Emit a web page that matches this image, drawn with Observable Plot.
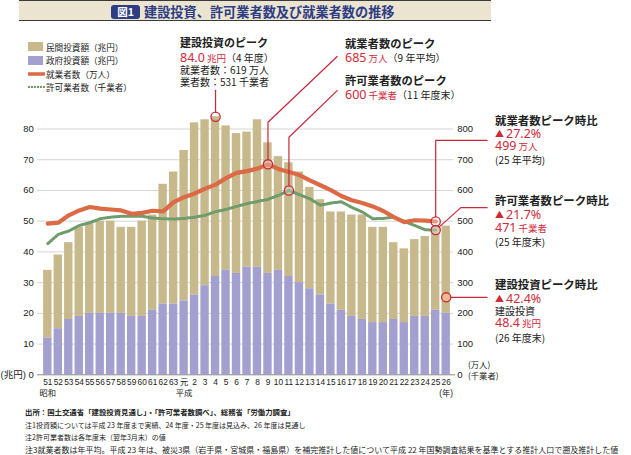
<!DOCTYPE html>
<html><head><meta charset="utf-8">
<script src="https://cdn.jsdelivr.net/npm/d3@7"></script>
<script src="https://cdn.jsdelivr.net/npm/@observablehq/plot@0.6"></script>
<style>
body{margin:0;background:#fff;}
#wrap{position:relative;width:631px;height:455px;overflow:hidden;font-family:"Noto Sans CJK JP",sans-serif;color:#222;}
#titlebar{position:absolute;left:19px;top:0px;width:472px;height:19px;background:#ebe4d0;border-top:1.5px solid #3a3a3a;border-bottom:1.5px solid #3a3a3a;}
#fig{position:absolute;left:111px;top:5px;width:29px;height:14px;border-radius:3px;background:#2e3d84;color:#fff;font:bold 10.5px/14px "Noto Sans CJK JP";text-align:center;}
#title{position:absolute;left:144px;top:2px;font:bold 13.2px/20px "Noto Sans CJK JP";color:#2e3d84;white-space:nowrap;}
#chart{position:absolute;left:0;top:30px;}
.t{position:absolute;white-space:nowrap;line-height:10px;height:10px;}
.t span{display:inline-block;height:10px;line-height:10px;vertical-align:top;}
.red{color:#cf2a3a;}
.num{font-family:"Noto Sans",sans-serif;font-size:12.5px;font-weight:400;}
#foot{position:absolute;left:25px;top:400px;width:620px;}
#foot div{position:absolute;left:0;white-space:nowrap;line-height:10px;}
</style></head><body><div id="wrap">
<div id="titlebar"></div>
<div id="fig">図1</div>
<div id="title">建設投資、許可業者数及び就業者数の推移</div>
<div id="chart"></div>
<div id="foot">
<div style="top:7px;font-size:7.4px;font-weight:bold;">出所：国土交通省「建設投資見通し」・「許可業者数調べ」、総務省「労働力調査」</div>
<div style="top:20px;font-size:7px;">注1投資額については平成 23 年度まで実績、24 年度・25 年度は見込み、26 年度は見通し</div>
<div style="top:32px;font-size:7px;">注2許可業者数は各年度末（翌年3月末）の値</div>
<div style="top:45px;font-size:8px;">注3就業者数は年平均。平成 23 年は、被災3県（岩手県・宮城県・福島県）を補完推計した値について平成 22 年国勢調査結果を基準とする推計人口で遡及推計した値</div>
</div>
</div>
<script>
// ---- data ----
const yearLabels = ["51","52","53","54","55","56","57","58","59","60","61","62","63","元","2","3","4","5","6","7","8","9","10","11","12","13","14","15","16","17","18","19","20","21","22","23","24","25","26"];
const eraLabels = {0:"昭和", 13:"平成", 38:"(年)"};
// 建設投資 total (兆円) = 民間 + 政府
const investTotal = [34,39,43,48,49.5,50,50,48,48,50,52,62,66,73,82,83,84,81,78.5,79,83,75.5,71,69,66,61,57,53,53,52,52,48,48,43,41,44,45,48,48.4];
// 政府投資 (兆円)
const investGov = [12,15,18,19,20,20,20,20,19,19,21,23,23,24,26,29,32,34,33,35,35,33,34,32,30,28,26,23,21,19,18,17,17,18,17,19,19,21,20];
// 就業者数 (万人), 昭和51〜平成25
const employed = [492,495,519,535,546,541,538,535,524,527,534,532,562,578,590,606,619,640,657,663,671,685,670,660,650,633,617,601,582,568,559,548,533,513,497,503,502,499];
// 許可業者数 (千業者), 昭和51〜平成25
const permits = [427,457,468,486,495,508,513,516,516,516,510,508,507,509,513,519,531,538,548,557,564,571,584,600,586,573,552,559,563,545,530,508,509,513,499,486,472,471];
const yTicks = [0,10,20,30,40,50,60,70,80];

const bars = yearLabels.map((lab,i)=>({i, lab, total: investTotal[i], gov: investGov[i]}));
const empData = employed.map((v,i)=>({i, v: v/10}));
const perData = permits.map((v,i)=>({i, v: v/10}));

// highlighted points (index, value in left-axis units)
const hl = [
  {i:16, v: investTotal[16], fill:"none"},
  {i:21, v: employed[21]/10, fill:"rgba(255,255,255,0.25)"},
  {i:23, v: permits[23]/10, fill:"rgba(255,255,255,0.25)"},
  {i:37, v: employed[37]/10, fill:"rgba(255,255,255,0.3)"},
  {i:37, v: permits[37]/10, fill:"rgba(255,255,255,0.3)"},
  {i:38, v: 25.2, fill:"#f0b98f"}
];
// leader lines (in chart units)
const leaders = [
  {id:"a", pts:[[16,85.5],[16,92.6]]},
  {id:"b", pts:[[21,69.97],[21,82.2],[27.6,103.6]]},
  {id:"c", pts:[[23,61.47],[23,77.3],[27.6,92.5]]},
  {id:"d", pts:[[37,51.37],[37,76.3],[41.9,76.3]]},
  {id:"e", pts:[[37.32,48.07],[39.4,54.4],[41.9,54.4]]},
  {id:"f", pts:[[38.43,25.2],[41.9,25.2]]}
].flatMap(l=>l.pts.map(p=>({id:l.id, x:p[0], y:p[1]})));

const C_PRIV="#c7b98b", C_GOV="#a3a0d0", C_EMP="#db6a45", C_PER="#6f9c6c", C_RED="#c8283a";

const plot = Plot.plot({
  width: 631, height: 370,
  marginLeft: 47.3, marginRight: 185.3, marginTop: 98.5, marginBottom: 25.7,
  x: {type:"linear", domain:[0,38]},
  y: {domain:[0,80]},
  style: {fontFamily:"'Liberation Sans','Noto Sans CJK JP',sans-serif", fontSize:"9px", color:"#222", background:"transparent", overflow:"visible"},
  marks: [
    Plot.ruleY(yTicks.filter(d=>d>0), {x1:-0.98, x2:38.7, stroke:"#d4d4d4", strokeWidth:1}),
    Plot.rectY(bars, {x1:d=>d.i-0.4, x2:d=>d.i+0.4, y1:"gov", y2:"total", fill:C_PRIV}),
    Plot.rectY(bars, {x1:d=>d.i-0.4, x2:d=>d.i+0.4, y1:0, y2:"gov", fill:C_GOV}),
    Plot.ruleY([0], {x1:-0.98, x2:38.9, stroke:"#888", strokeWidth:1}),
    Plot.line(perData, {x:"i", y:"v", stroke:C_PER, strokeWidth:3, strokeDasharray:"2.2 1.2"}),
    Plot.line(empData, {x:"i", y:"v", stroke:C_EMP, strokeWidth:4.2, strokeLinejoin:"round"}),
    Plot.line(leaders, {x:"x", y:"y", z:"id", stroke:C_RED, strokeWidth:1.2, curve:"linear"}),
    Plot.dot(hl, {x:"i", y:"v", r:4.6, stroke:C_RED, strokeWidth:1.3, fill:d=>d.fill}),
    Plot.axisY({ticks:yTicks, tickSize:0, tickPadding:14, fontSize:9.5, tickFormat:d=>d===0?"(兆円) 0":d}),
    Plot.axisY({anchor:"right", ticks:yTicks, tickSize:0, tickPadding:11, fontSize:9.5, tickFormat:d=>d*10}),
    Plot.axisX({ticks:d3.range(yearLabels.length), tickSize:0, tickPadding:2, fontSize:8.3, lineHeight:1.35,
      tickFormat:i=>yearLabels[i] + (eraLabels[i]?"\n"+eraLabels[i]:"")})
  ]
});
document.getElementById("chart").appendChild(plot);

// ---- legend & annotations (HTML overlay) ----
const wrap = document.getElementById("wrap");
function put(x, yc, html, style=""){
  const d=document.createElement("div"); d.className="t";
  d.style.cssText=`left:${x}px;top:${yc-5}px;${style}`; d.innerHTML=html; wrap.appendChild(d);
}
// legend
const legend = [
  {y:46.5, label:"民間投資額（兆円）", sw:`<div style="width:15px;height:9px;background:${C_PRIV}"></div>`},
  {y:60, label:"政府投資額（兆円）", sw:`<div style="width:15px;height:9px;background:${C_GOV}"></div>`},
  {y:73.5, label:"就業者数（万人）", sw:`<svg width="17" height="6"><line x1="0" y1="3" x2="17" y2="3" stroke="${C_EMP}" stroke-width="3.5"/></svg>`},
  {y:87, label:"許可業者数（千業者）", sw:`<svg width="17" height="6"><line x1="0" y1="3" x2="17" y2="3" stroke="${C_PER}" stroke-width="2.2" stroke-dasharray="2 1"/></svg>`}
];
legend.forEach(l=>{
  put(28, l.y, `<div style="display:flex;align-items:center;height:10px">${l.sw}</div>`);
  put(46, l.y, l.label, "font-size:8.6px;");
});
const NUM = (s)=>`<span class="red num">${s}</span>`;
const UNIT = (s)=>`<span class="red" style="font-size:9.5px;">${s}</span>`;
const BLK = (s)=>`<span style="font-size:10px">${s}</span>`;
// top-left peak
put(180, 42, "建設投資のピーク", "font-size:11px;font-weight:bold;");
put(180, 57.5, `${NUM("84.0")}${UNIT("&nbsp;兆円")}${BLK("（4 年度）")}`);
put(180, 70, "就業者数：619 万人", "font-size:10px;");
put(180, 82, "業者数：531 千業者", "font-size:10px;");
// top-right peaks
put(345, 43, "就業者数のピーク", "font-size:11.3px;font-weight:bold;");
put(345, 58, `${NUM("685")}${UNIT("&nbsp;万人")}${BLK("（9 年平均）")}`);
put(345, 80, "許可業者数のピーク", "font-size:11.3px;font-weight:bold;");
put(345, 95, `${NUM("600")}${UNIT("&nbsp;千業者")}${BLK("（11 年度末）")}`);
// right side
const TRI = `<span class="red" style="font-size:9px">▲&nbsp;</span>`;
put(495, 120, "就業者数ピーク時比", "font-size:11.4px;font-weight:bold;");
put(495, 133.5, `${TRI}${NUM("27.2%")}`);
put(495, 146, `${NUM("499")}${UNIT("&nbsp;万人")}`);
put(495, 159.5, "(25 年平均)", "font-size:10px;");
put(495, 200, "許可業者数ピーク時比", "font-size:11.4px;font-weight:bold;");
put(495, 215, `${TRI}${NUM("21.7%")}`);
put(495, 228, `${NUM("471")}${UNIT("&nbsp;千業者")}`);
put(495, 242, "(25 年度末)", "font-size:10px;");
put(495, 283.5, "建設投資ピーク時比", "font-size:11.4px;font-weight:bold;");
put(495, 299, `${TRI}${NUM("42.4%")}`);
put(495, 310.5, "建設投資", "font-size:10px;");
put(495, 323, `${NUM("48.4")}${UNIT("&nbsp;兆円")}`);
put(495, 338, "(26 年度末)", "font-size:10px;");
// right axis unit
put(468, 364, "(万人)", "font-size:8.3px;");
put(468, 374.5, "(千業者)", "font-size:8.3px;");
</script>
</body></html>
